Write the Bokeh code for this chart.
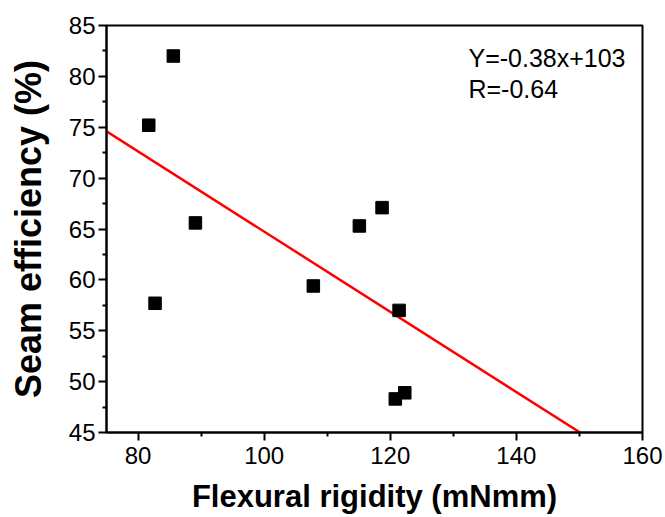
from bokeh.plotting import figure
from bokeh.models import Range1d, FixedTicker, Label
from bokeh.embed import file_html
from bokeh.resources import INLINE

# Data
rigidity = [85.6, 81.7, 89.1, 82.7, 107.8, 115.1, 118.7, 121.4, 120.8, 122.3]
efficiency = [82.0, 75.2, 65.6, 57.7, 59.4, 65.3, 67.1, 57.0, 48.3, 48.9]
fit_x = [75.0, 150.1]
fit_y = [74.6, 45.0]
x_ticks = [80, 100, 120, 140, 160]
x_minor = [90, 110, 130, 150]
y_ticks = [45, 50, 55, 60, 65, 70, 75, 80, 85]
y_minor = [47.5, 52.5, 57.5, 62.5, 67.5, 72.5, 77.5, 82.5]
eq_text = "Y=-0.38x+103"
r_text = "R=-0.64"

FONT = "Liberation Sans"

p = figure(width=664, height=516, output_backend="svg", toolbar_location=None,
           x_range=Range1d(75, 160), y_range=Range1d(45, 85),
           min_border_left=106, min_border_right=22, min_border_top=25, min_border_bottom=83)
p.background_fill_color = "white"
p.border_fill_color = "white"
p.grid.visible = False
p.outline_line_color = "black"
p.outline_line_width = 2

p.line(fit_x, fit_y, line_color="#ff0000", line_width=2.5)
p.scatter(rigidity, efficiency, marker="square", size=12.5, fill_color="black", line_color="black")

p.xaxis.ticker = FixedTicker(ticks=x_ticks, minor_ticks=x_minor)
p.yaxis.ticker = FixedTicker(ticks=y_ticks, minor_ticks=y_minor)

for ax in (p.xaxis[0], p.yaxis[0]):
    ax.axis_line_width = 2
    ax.axis_line_color = "black"
    ax.major_tick_line_width = 2
    ax.minor_tick_line_width = 2
    ax.major_tick_in = 0
    ax.major_tick_out = 8
    ax.minor_tick_in = 0
    ax.minor_tick_out = 4
    ax.major_label_text_font = FONT
    ax.major_label_text_font_size = "24px"
    ax.major_label_text_color = "black"
    ax.axis_label_text_font = FONT
    ax.axis_label_text_font_style = "bold"
    ax.axis_label_text_color = "black"

p.xaxis.axis_label = "Flexural rigidity (mNmm)"
p.yaxis.axis_label = "Seam efficiency (%)"
p.xaxis.axis_label_text_font_size = "31px"
p.yaxis.axis_label_text_font_size = "36px"
p.xaxis.major_label_standoff = 6
p.yaxis.major_label_standoff = 3
p.xaxis.axis_label_standoff = 12
p.yaxis.axis_label_standoff = 17

p.add_layout(Label(x=132.4, y=81.76, text=eq_text, text_font=FONT, text_font_size="25px",
                   text_baseline="alphabetic", text_color="black"))
p.add_layout(Label(x=132.4, y=78.73, text=r_text, text_font=FONT, text_font_size="25px",
                   text_baseline="alphabetic", text_color="black"))

open("out.html", "w").write(file_html(p, INLINE))
